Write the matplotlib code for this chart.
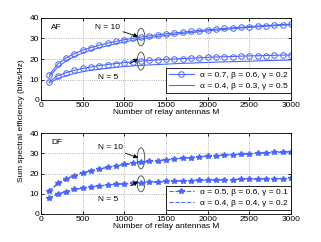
import numpy as np
from matplotlib import pyplot as plt
from matplotlib.patches import Ellipse

# Number of relay antennas
M = np.arange(100, 3001, 100)

# AF, alpha=0.7, beta=0.6, gamma=0.2 (circles)
af_a_n10 = [12.3, 17.5, 20.5, 22.6, 24.3, 25.6, 26.7, 27.7, 28.6, 29.4,
            30.1, 30.7, 31.3, 31.8, 32.3, 32.7, 33.1, 33.5, 33.9, 34.3,
            34.6, 34.9, 35.2, 35.5, 35.8, 36.1, 36.3, 36.6, 36.8, 37.0]
af_a_n5 = [9.0, 11.8, 13.3, 14.5, 15.4, 16.1, 16.8, 17.3, 17.8, 18.2,
           18.6, 19.0, 19.3, 19.6, 19.8, 20.0, 20.2, 20.4, 20.6, 20.8,
           21.0, 21.1, 21.2, 21.4, 21.5, 21.6, 21.7, 21.8, 21.9, 22.0]
# AF, alpha=0.4, beta=0.3, gamma=0.5 (solid)
af_b_n10 = [11.3, 16.0, 19.0, 21.2, 22.9, 24.3, 25.5, 26.5, 27.5, 28.3,
            29.1, 29.8, 30.4, 31.0, 31.5, 32.0, 32.5, 32.9, 33.3, 33.7,
            34.1, 34.4, 34.8, 35.1, 35.4, 35.7, 36.0, 36.2, 36.5, 36.7]
af_b_n5 = [8.3, 10.5, 11.8, 12.9, 13.8, 14.5, 15.0, 15.5, 15.9, 16.3,
           16.6, 16.9, 17.1, 17.3, 17.5, 17.7, 17.9, 18.0, 18.2, 18.3,
           18.5, 18.6, 18.7, 18.8, 18.9, 19.1, 19.2, 19.3, 19.4, 19.5]

# DF, alpha=0.5, beta=0.6, gamma=0.1 (stars)
df_a_n10 = [11.4, 15.2, 17.4, 19.0, 20.4, 21.4, 22.3, 23.1, 23.8, 24.5,
            25.0, 25.5, 26.0, 26.4, 26.8, 27.2, 27.6, 27.9, 28.3, 28.6,
            28.8, 29.1, 29.3, 29.5, 29.8, 30.0, 30.2, 30.4, 30.6, 30.7]
df_a_n5 = [7.9, 9.9, 11.1, 12.1, 12.9, 13.4, 13.9, 14.3, 14.7, 15.0,
           15.3, 15.5, 15.7, 15.9, 16.1, 16.2, 16.4, 16.5, 16.6, 16.7,
           16.8, 16.9, 17.0, 17.1, 17.2, 17.3, 17.4, 17.5, 17.5, 17.6]
# DF, alpha=0.4, beta=0.4, gamma=0.2 (dashed)
df_b_n10 = [11.2, 15.0, 17.2, 18.9, 20.3, 21.3, 22.2, 23.0, 23.7, 24.4,
            24.9, 25.4, 25.9, 26.3, 26.7, 27.1, 27.5, 27.8, 28.2, 28.5,
            28.8, 29.0, 29.3, 29.5, 29.7, 30.0, 30.2, 30.4, 30.6, 30.7]
df_b_n5 = [7.8, 9.8, 11.0, 12.0, 12.8, 13.4, 13.9, 14.3, 14.6, 14.9,
           15.2, 15.4, 15.6, 15.8, 16.0, 16.2, 16.3, 16.4, 16.6, 16.7,
           16.8, 16.9, 17.0, 17.1, 17.2, 17.3, 17.4, 17.4, 17.5, 17.6]

fs = 6
blue = '#4a66ff'
plt.rcParams['font.family'] = ['Liberation Sans', 'DejaVu Sans']
plt.rcParams['xtick.direction'] = 'in'
plt.rcParams['ytick.direction'] = 'in'

fig = plt.figure(figsize=(3.21, 2.42), dpi=100)
ax1 = fig.add_axes([41 / 321, 1 - 100 / 242, 250 / 321, 82 / 242])
ax2 = fig.add_axes([41 / 321, 1 - 214 / 242, 250 / 321, 81 / 242])

ax1.plot(M, af_a_n10, '-o', color=blue, lw=0.8, ms=4, mfc='none', mew=0.7,
         label='\u03b1 = 0.7, \u03b2 = 0.6, \u03b3 = 0.2')
ax1.plot(M, af_a_n5, '-o', color=blue, lw=0.8, ms=4, mfc='none', mew=0.7)
ax1.plot(M, af_b_n10, '-', color=blue, lw=0.8,
         label='\u03b1 = 0.4, \u03b2 = 0.3, \u03b3 = 0.5')
ax1.plot(M, af_b_n5, '-', color=blue, lw=0.8)

ax2.plot(M, df_a_n10, '--*', color=blue, lw=0.8, ms=4,
         label='\u03b1 = 0.5, \u03b2 = 0.6, \u03b3 = 0.1')
ax2.plot(M, df_a_n5, '--*', color=blue, lw=0.8, ms=4)
ax2.plot(M, df_b_n10, '--', color=blue, lw=0.8,
         label='\u03b1 = 0.4, \u03b2 = 0.4, \u03b3 = 0.2')
ax2.plot(M, df_b_n5, '--', color=blue, lw=0.8)

# annotations: (ellipse center N=10, N=5, text positions)
annots = [
    (ax1, 'AF', (1200, 30.7), 8.6, (1200, 19.0), 8.8, (800, 35.6), (800, 11.2)),
    (ax2, 'DF', (1200, 27.5), 10.4, (1200, 14.9), 7.9, (830, 32.7), (800, 7.4)),
]
for ax, name, c10, h10, c5, h5, t10, t5 in annots:
    ax.set_xlim(0, 3000)
    ax.set_ylim(0, 40)
    ax.set_xticks([0, 500, 1000, 1500, 2000, 2500, 3000])
    ax.set_yticks([0, 10, 20, 30, 40])
    ax.tick_params(labelsize=fs, length=2.5, width=0.6, pad=1.5,
                   top=True, right=True)
    for s in ax.spines.values():
        s.set_linewidth(0.6)
    ax.grid(True, linestyle=':', color='#999999', lw=0.6)
    ax.set_xlabel('Number of relay antennas M', fontsize=fs, labelpad=0)
    ax.text(0.04, 0.86, name, transform=ax.transAxes, fontsize=fs)
    ax.add_patch(Ellipse(c10, 90, h10, fill=False, lw=0.6, color='#444444'))
    ax.add_patch(Ellipse(c5, 90, h5, fill=False, lw=0.6, color='#444444'))
    ax.annotate('N = 10', xy=(c10[0] - 35, c10[1] + 0.3), xytext=t10,
                fontsize=fs, ha='center', va='center',
                arrowprops=dict(arrowstyle='-|>', lw=0.6, color='k',
                                shrinkA=12, shrinkB=0, mutation_scale=6))
    ax.annotate('N = 5', xy=(c5[0] - 35, c5[1] + 1.2), xytext=t5,
                fontsize=fs, ha='center', va='center',
                arrowprops=dict(arrowstyle='-|>', lw=0.6, color='k',
                                shrinkA=10, shrinkB=0, mutation_scale=6))

ax1.legend(loc='lower right', bbox_to_anchor=(1.0, 0.09), fontsize=fs,
           fancybox=False, edgecolor='k', borderaxespad=0, handlelength=3.0,
           borderpad=0.35, labelspacing=0.35, framealpha=1)
ax2.legend(loc='lower right', bbox_to_anchor=(1.0, 0.05), fontsize=fs,
           fancybox=False, edgecolor='k', borderaxespad=0, handlelength=3.0,
           borderpad=0.35, labelspacing=0.35, framealpha=1)
for ax in (ax1, ax2):
    ax.get_legend().get_frame().set_linewidth(0.6)

fig.text(22 / 321, 0.5, 'Sum spectral efficiency (bit/s/Hz)', rotation=90,
         ha='center', va='center', fontsize=fs)

fig.savefig('out.png', dpi=100)
